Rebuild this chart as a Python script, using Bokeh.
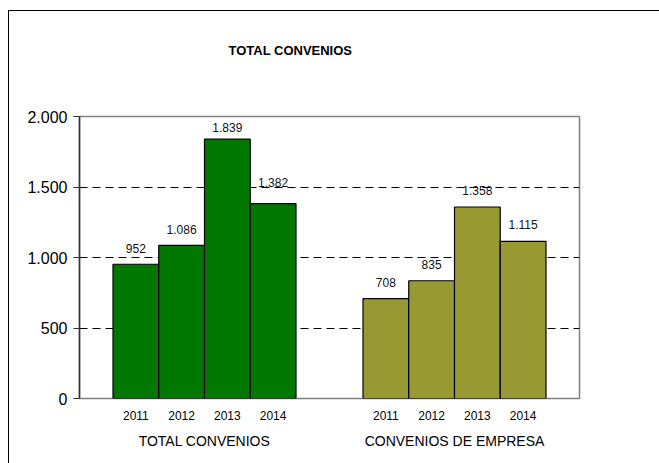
from bokeh.plotting import figure
from bokeh.models import Range1d, FixedTicker, LinearAxis, ColumnDataSource, Title
from bokeh.layouts import column
from bokeh.core.properties import value
from bokeh.embed import file_html
from bokeh.resources import INLINE

# ---- data ----
title_text = "TOTAL CONVENIOS"
years = ["2011", "2012", "2013", "2014"]
groups = ["TOTAL CONVENIOS", "CONVENIOS DE EMPRESA"]
total_convenios = [952, 1086, 1839, 1382]
convenios_empresa = [708, 835, 1358, 1115]
y_ticks = [0, 500, 1000, 1500, 2000]
y_tick_labels = ["0", "500", "1.000", "1.500", "2.000"]
colors = ["#007800", "#999933"]

# ---- styling ----
FONT = "Liberation Sans"
bar_w = 0.183
group_centers = [0.5, 1.5]
label_gaps = [[-11, -11, -7, -17], [-12, -12, -12, -12]]  # px above each bar

p = figure(width=650, height=452, output_backend="svg", toolbar_location=None,
           x_range=Range1d(0, 2), y_range=Range1d(0, 2000),
           min_border_left=70, min_border_right=80, min_border_top=105,
           min_border_bottom=65, x_axis_type=None)
p.title.text = title_text
p.title.align = "left"
p.title.offset = 149
p.title.standoff = 10
p.title.text_font = FONT
p.title.text_font_size = "13px"
p.title.text_font_style = "bold"
p.title.text_color = "black"
p.outline_line_color = "#808080"
p.outline_line_width = 1.5

# empty spacer between title and plot frame
p.add_layout(Title(text=" ", text_font_size="13px", standoff=37), "above")

xs_all, labels_all = [], []
for gi, (vals, col) in enumerate(zip([total_convenios, convenios_empresa], colors)):
    xs = [group_centers[gi] + (i - 1.5) * bar_w for i in range(len(years))]
    src = ColumnDataSource(dict(x=xs, top=vals, dy=label_gaps[gi],
                                lab=[f"{v:,}".replace(",", ".") for v in vals]))
    p.vbar(x="x", top="top", width=bar_w, bottom=0, source=src,
           fill_color=col, line_color="black", line_width=1.2)
    p.text(x="x", y="top", text="lab", source=src, text_align="center",
           text_baseline="bottom", y_offset="dy", text_font_size="12px",
           text_font=value(FONT), text_color="#111111")
    xs_all += xs
    labels_all += years

# y axis
p.yaxis.ticker = FixedTicker(ticks=y_ticks)
p.yaxis.major_label_overrides = dict(zip(y_ticks, y_tick_labels))
p.yaxis.major_label_text_font = FONT
p.yaxis.major_label_text_font_size = "16px"
p.yaxis.major_label_text_color = "black"
p.yaxis.axis_line_color = "#333333"
p.yaxis.axis_line_width = 1.5
p.yaxis.major_tick_out = 6
p.yaxis.major_tick_in = 0
p.yaxis.major_tick_line_color = "#333333"
p.yaxis.minor_tick_line_color = None
p.yaxis.major_label_standoff = 6

# grid
p.xgrid.visible = False
p.ygrid.ticker = FixedTicker(ticks=[500, 1000, 1500])
p.ygrid.grid_line_color = "black"
p.ygrid.grid_line_dash = "8 5"
p.ygrid.grid_line_width = 1

# x axes: years, then group names
ax_years = LinearAxis(ticker=FixedTicker(ticks=xs_all),
                      major_label_overrides={x: l for x, l in zip(xs_all, labels_all)})
ax_groups = LinearAxis(ticker=FixedTicker(ticks=group_centers),
                       major_label_overrides={x: l for x, l in zip(group_centers, groups)})
for ax, fs, so in [(ax_years, "12px", 6), (ax_groups, "14px", 4)]:
    ax.axis_line_color = None
    ax.major_tick_line_color = None
    ax.minor_tick_line_color = None
    ax.major_label_text_font = FONT
    ax.major_label_text_font_size = fs
    ax.major_label_text_color = "black"
    ax.major_label_standoff = so
p.add_layout(ax_years, "below")
p.add_layout(ax_groups, "below")

layout = column(p, margin=(10, 0, 0, 8),
                styles={"border-left": "1px solid black", "border-top": "1px solid black"})

open("out.html", "w").write(file_html(layout, INLINE))
